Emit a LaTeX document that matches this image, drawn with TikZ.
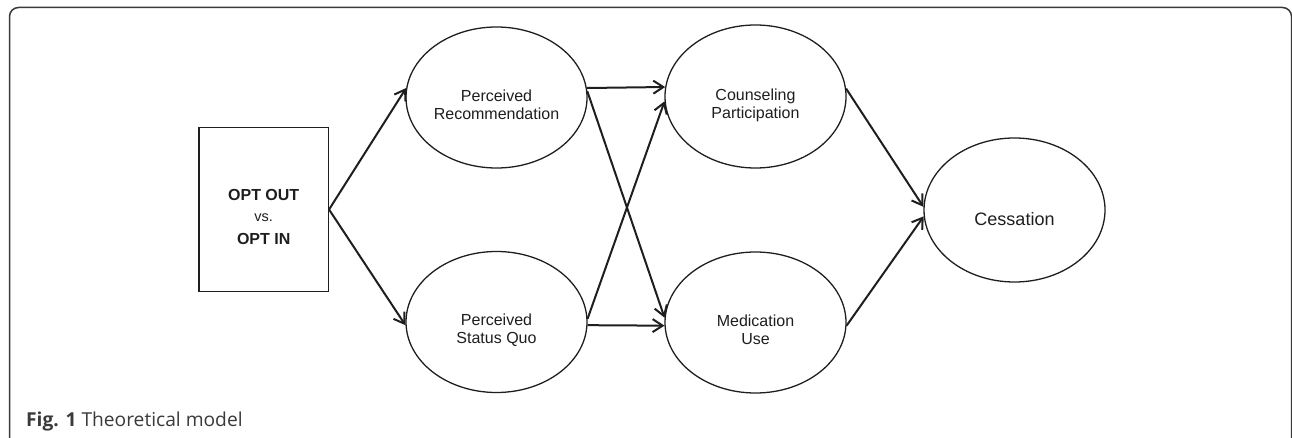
\documentclass[tikz,border=0pt]{standalone}
\usepackage{fontspec}
\setmainfont{Liberation Sans}
\newfontfamily\capfont{Open Sans}
\usetikzlibrary{shapes.geometric,arrows.meta}
\definecolor{ink}{HTML}{1E1E1E}
\definecolor{framec}{HTML}{3A3A3A}
\newcommand\lowtext[2]{\raisebox{-#1}[\height][\depth]{\begin{tabular}{@{}c@{}}#2\end{tabular}}}
\tikzset{
  ell/.style={ellipse, draw=ink, line width=1.3pt, inner sep=0pt, minimum width=181pt, minimum height=141pt, text=ink, font=\fontsize{16}{18.3}\selectfont},
  boxnode/.style={rectangle, draw=ink, line width=1.4pt, inner sep=0pt, minimum width=129.3pt, minimum height=164.4pt, text=ink, font=\fontsize{16}{21}\selectfont},
  link/.style={draw=ink, line width=2pt, -{Straight Barb[length=10pt,width=13pt,line width=2pt]}},
}
\begin{document}
\begin{tikzpicture}[x=1pt,y=-1pt]
\useasboundingbox (0,0) rectangle (1292,438);
\begin{scope}
\clip (0,0) rectangle (1292,438);
\draw[framec, line width=1.5pt, rounded corners=9pt] (9.5,7.5) rectangle (1291.5,455);
\end{scope}
\node[boxnode] (box) at (263.7,209.5) {\lowtext{9pt}{\textbf{OPT OUT}\\{\fontsize{14.5}{21}\selectfont vs.}\\[2.3pt]\textbf{OPT IN}}};
\node[ell] (rec) at (496.5,97.5) {\lowtext{9pt}{Perceived\\Recommendation}};
\node[ell] (sq) at (496.5,322) {\lowtext{9pt}{Perceived\\Status Quo}};
\node[ell, minimum height=143pt] (couns) at (755.5,96.5) {\lowtext{9pt}{Counseling\\Participation}};
\node[ell] (med) at (755.5,322.5) {\lowtext{9pt}{Medication\\Use}};
\node[ell, minimum height=144pt, font=\fontsize{18}{21.6}\selectfont] (cess) at (1014.5,210) {\lowtext{11.5pt}{Cessation}};
\draw[link] (box.east) -- (rec.174);
\draw[link] (box.east) -- (sq.182);
\draw[link] (rec.6) -- (couns.174.7);
\draw[link] (rec.4.7) -- (med.177.1);
\draw[link] (sq.2.6) -- (couns.183.5);
\draw[link] (sq.-2.5) -- (med.182.2);
\draw[link] (couns.5.4) -- (cess.178.1);
\draw[link] (med.-2.2) -- (cess.184.4);
\node[anchor=base west, inner sep=0pt, text=framec, font=\capfont\fontsize{19.2}{22}\selectfont] (cap) at (26,426.7) {\textbf{Fig. 1} Theoretical model};
\end{tikzpicture}
\end{document}
